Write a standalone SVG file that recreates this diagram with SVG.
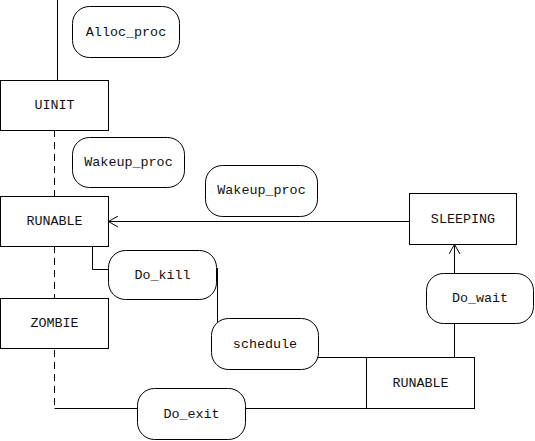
<svg xmlns="http://www.w3.org/2000/svg" width="535" height="441" viewBox="0 0 535 441">
<defs>
<style>
.box{fill:#fff;stroke:#000;stroke-width:1}
.lbl{font-family:"Liberation Mono","DejaVu Sans Mono",monospace;font-size:13.4px;fill:#111;text-anchor:middle;dominant-baseline:central}
.ln{fill:none;stroke:#000;stroke-width:1}
.dash{fill:none;stroke:#000;stroke-width:1;stroke-dasharray:7,5}
</style>
<marker id="open" viewBox="0 0 10 12" refX="9.5" refY="6" markerWidth="10" markerHeight="12" markerUnits="userSpaceOnUse" orient="auto">
<path d="M0,0.5 L9.5,6 L0,11.5" fill="none" stroke="#000" stroke-width="1"/>
</marker>
</defs>
<rect width="535" height="441" fill="#fff"/>
<g id="connectors">
<path class="ln" d="M57.5,0 V80"/>
<path class="dash" d="M54.5,130 V196"/>
<path class="dash" d="M54.5,246 V298"/>
<path class="dash" d="M54.5,350 V408"/>
<path class="ln" d="M54.5,408.5 H137"/>
<path class="ln" d="M92.5,246 V269.5 H108"/>
<path class="ln" d="M217.5,268 V322"/>
<path class="ln" d="M318,357.5 H474"/>
<path class="ln" d="M245,408.5 H366"/>
<path class="ln" d="M454.5,357 V323"/>
<path class="ln" d="M454.5,273 V244.5" marker-end="url(#open)"/>
<path class="ln" d="M409,221.5 H108.5" marker-end="url(#open)"/>
</g>
<g id="uinit"><rect class="box" x="0.5" y="80.5" width="108" height="50"/><text class="lbl" x="54.5" y="105.5">UINIT</text></g>
<g id="alloc_proc"><rect class="box" x="72.5" y="6.5" width="107" height="51" rx="17"/><text class="lbl" x="126" y="32">Alloc_proc</text></g>
<g id="wakeup_proc1"><rect class="box" x="72.5" y="137.5" width="112" height="50" rx="17"/><text class="lbl" x="128.5" y="162.5">Wakeup_proc</text></g>
<g id="runable1"><rect class="box" x="0.5" y="196.5" width="108" height="50"/><text class="lbl" x="54.5" y="221.5">RUNABLE</text></g>
<g id="wakeup_proc2"><rect class="box" x="205.5" y="165.5" width="112" height="51" rx="17"/><text class="lbl" x="261.5" y="190.5">Wakeup_proc</text></g>
<g id="sleeping"><rect class="box" x="409.5" y="193.5" width="107" height="51"/><text class="lbl" x="463" y="219">SLEEPING</text></g>
<g id="do_kill"><rect class="box" x="108.5" y="250.5" width="108" height="49" rx="17"/><text class="lbl" x="162.5" y="275">Do_kill</text></g>
<g id="zombie"><rect class="box" x="0.5" y="298.5" width="108" height="50"/><text class="lbl" x="54.5" y="323.5">ZOMBIE</text></g>
<g id="schedule"><rect class="box" x="211.5" y="318.5" width="107" height="51" rx="17"/><text class="lbl" x="265" y="344">schedule</text></g>
<g id="do_wait"><rect class="box" x="426.5" y="273.5" width="107" height="50" rx="17"/><text class="lbl" x="480" y="298.5">Do_wait</text></g>
<g id="runable2"><rect class="box" x="366.5" y="357.5" width="108" height="51"/><text class="lbl" x="420.5" y="383">RUNABLE</text></g>
<g id="do_exit"><rect class="box" x="137.5" y="388.5" width="108" height="51" rx="17"/><text class="lbl" x="191.5" y="414">Do_exit</text></g>
</svg>
